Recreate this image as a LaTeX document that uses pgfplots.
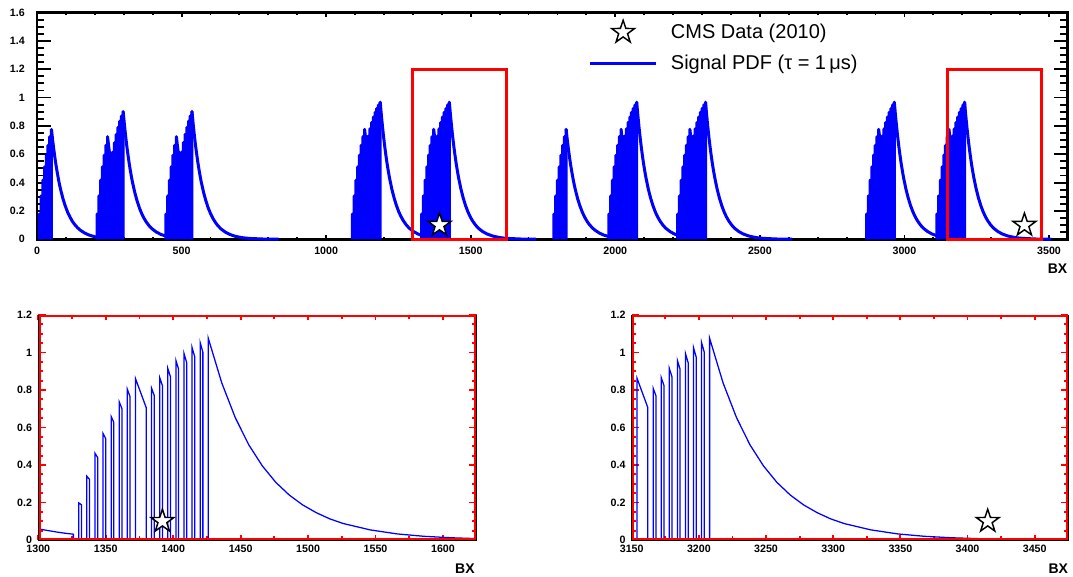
\documentclass[border=0pt]{standalone}
\usepackage{fontspec}
\setmainfont{Liberation Sans}
\usepackage{pgfplots}
\pgfplotsset{compat=1.18}
\usetikzlibrary{plotmarks}

\pgfdeclareplotmark{ostar}{%
  \pgfpathmoveto{\pgfpointpolar{90}{\pgfplotmarksize}}%
  \pgfpathlineto{\pgfpointpolar{126}{0.39\pgfplotmarksize}}%
  \pgfpathlineto{\pgfpointpolar{162}{\pgfplotmarksize}}%
  \pgfpathlineto{\pgfpointpolar{198}{0.39\pgfplotmarksize}}%
  \pgfpathlineto{\pgfpointpolar{234}{\pgfplotmarksize}}%
  \pgfpathlineto{\pgfpointpolar{270}{0.39\pgfplotmarksize}}%
  \pgfpathlineto{\pgfpointpolar{306}{\pgfplotmarksize}}%
  \pgfpathlineto{\pgfpointpolar{342}{0.39\pgfplotmarksize}}%
  \pgfpathlineto{\pgfpointpolar{18}{\pgfplotmarksize}}%
  \pgfpathlineto{\pgfpointpolar{54}{0.39\pgfplotmarksize}}%
  \pgfpathclose
  \pgfusepathqfillstroke
}

\pgfplotsset{
  /pgf/number format/assume math mode=true,
  /pgf/number format/1000 sep={},
  tick label style={font=\fontsize{8}{9}\selectfont\bfseries},
  starplot/.style={only marks, mark=ostar, mark size=9pt, mark options={draw=black, fill=white, line width=1.1pt}, forget plot},
  topfill/.style={fill=blue, draw=blue, line width=2.25pt, line join=round, forget plot},
  toptail/.style={blue, line width=2.25pt, line join=round, forget plot},
  botline/.style={blue, line width=0.95pt, forget plot},
  starlegend/.style={legend image code/.code={\path (0pt,0pt) (50pt,0pt); \draw[mark repeat=2,mark phase=2,##1] plot coordinates {(0pt,0pt) (25pt,0pt) (50pt,0pt)};}},
  linelegend/.style={legend image code/.code={\draw[##1] (0pt,0pt) -- (50pt,0pt);}},
}

\begin{document}
\begin{tikzpicture}
\path[use as bounding box] (0,0) rectangle (804.75pt,432pt);

% ---------------- top panel ----------------
\begin{axis}[
  at={(27.75pt,252.525pt)}, anchor=south west, scale only axis,
  width=772.875pt, height=170.1pt,
  xmin=0, xmax=3564, ymin=0, ymax=1.6, clip=false,
  scaled x ticks=false,
  xtick={0,500,1000,1500,2000,2500,3000,3500},
  ytick={0,0.2,0.4,0.6,0.8,1,1.2,1.4,1.6},
  minor x tick num=4, minor y tick num=3,
  tick align=inside, xtick pos=both, ytick pos=both,
  xticklabel pos=lower, yticklabel pos=left,
  axis line style={line width=1.9pt},
  xtick style={black, line width=1.4pt, /pgfplots/major tick length=3.5pt, /pgfplots/minor tick length=2pt},
  ytick style={black, line width=1.4pt, /pgfplots/major tick length=10.5pt, /pgfplots/minor tick length=5.5pt},
  yticklabel style={anchor=east, inner sep=0pt, xshift=-9pt},
  xticklabel style={anchor=north, inner sep=0pt, yshift=-5.5pt},
  xlabel={BX},
  x label style={at={(axis description cs:1,-0.1296)}, anchor=east, inner sep=0pt, font=\fontsize{10.5}{12}\selectfont\bfseries},
  legend style={at={(axis description cs:0.5347,0.853)}, anchor=west, draw=none, fill=none,
    inner sep=0pt, row sep=9.75pt, column sep=9.75pt, font=\fontsize{15}{18}\selectfont,
    cells={anchor=west}, nodes={inner sep=0pt}},
]
\addlegendimage{only marks, mark=ostar, mark size=9pt, mark options={draw=black, fill=white, line width=1.1pt}, starlegend}
\addlegendentry{CMS Data (2010)}
\addlegendimage{blue, line width=2.25pt, linelegend}
\addlegendentry{Signal PDF (τ = 1\,μs)}

% train A (8 bunches)
\addplot[topfill] coordinates {(8,0)(8,0.178)(14,0.153)(14,0.306)(20,0.263)(20,0.417)(26,0.359)(26,0.511)(32,0.440)(32,0.593)(38,0.510)(38,0.663)(44,0.571)(44,0.724)(50,0.623)(50,0.776)(50,0)};
\addplot[toptail] coordinates {(50,0.776)(54,0.702)(58,0.635)(62,0.575)(66,0.520)(70,0.471)(74,0.426)(78,0.385)(82,0.349)(90,0.285)(98,0.234)(106,0.191)(114,0.157)(122,0.128)(130,0.105)(140,0.082)(150,0.064)(165,0.044)(180,0.030)(200,0.018)(208,0.015)};
% train B (7+7)
\addplot[topfill] coordinates {(208,0)(208,0.178)(214,0.153)(214,0.306)(220,0.263)(220,0.417)(226,0.359)(226,0.511)(232,0.440)(232,0.593)(238,0.510)(238,0.663)(244,0.571)(244,0.724)(250,0.62)(262,0.58)(262,0.615)(268,0.529)(268,0.682)(274,0.587)(274,0.740)(280,0.637)(280,0.790)(286,0.680)(286,0.833)(292,0.717)(292,0.870)(298,0.749)(298,0.902)(298,0)};
\addplot[toptail] coordinates {(298,0.902)(302,0.816)(306,0.738)(310,0.668)(314,0.605)(318,0.547)(322,0.495)(326,0.448)(330,0.405)(338,0.332)(346,0.272)(354,0.222)(362,0.182)(370,0.149)(378,0.122)(388,0.095)(398,0.074)(413,0.051)(428,0.035)(446,0.022)};
% train C (7+7)
\addplot[topfill] coordinates {(446,0)(446,0.178)(452,0.153)(452,0.306)(458,0.263)(458,0.417)(464,0.359)(464,0.511)(470,0.440)(470,0.593)(476,0.510)(476,0.663)(482,0.571)(482,0.724)(488,0.62)(500,0.58)(500,0.615)(506,0.529)(506,0.682)(512,0.587)(512,0.740)(518,0.637)(518,0.790)(524,0.680)(524,0.833)(530,0.717)(530,0.870)(536,0.749)(536,0.902)(536,0)};
\addplot[toptail] coordinates {(536,0.902)(540,0.816)(544,0.738)(548,0.668)(552,0.605)(556,0.547)(560,0.495)(564,0.448)(568,0.405)(576,0.332)(584,0.272)(592,0.222)(600,0.182)(608,0.149)(616,0.122)(626,0.095)(636,0.074)(651,0.051)(666,0.035)(686,0.021)(711,0.011)(736,0.006)(786,0.0017)(836,0.0005)};
% train D (8+8)
\addplot[topfill] coordinates {(1091,0)(1091,0.178)(1097,0.153)(1097,0.306)(1103,0.263)(1103,0.417)(1109,0.359)(1109,0.511)(1115,0.440)(1115,0.593)(1121,0.510)(1121,0.663)(1127,0.571)(1127,0.724)(1133,0.623)(1133,0.776)(1141,0.635)(1145,0.620)(1145,0.728)(1151,0.627)(1151,0.779)(1157,0.670)(1157,0.824)(1163,0.709)(1163,0.862)(1169,0.742)(1169,0.896)(1175,0.771)(1175,0.923)(1181,0.794)(1181,0.948)(1187,0.816)(1187,0.968)(1187,0)};
\addplot[toptail] coordinates {(1187,0.968)(1191,0.876)(1195,0.793)(1199,0.717)(1203,0.649)(1207,0.587)(1211,0.531)(1215,0.481)(1219,0.435)(1227,0.356)(1235,0.292)(1243,0.239)(1251,0.195)(1259,0.160)(1267,0.131)(1277,0.102)(1287,0.079)(1302,0.055)(1317,0.038)(1330,0.027)};
% train E (8+8)
\addplot[topfill] coordinates {(1330,0)(1330,0.178)(1336,0.153)(1336,0.306)(1342,0.263)(1342,0.417)(1348,0.359)(1348,0.511)(1354,0.440)(1354,0.593)(1360,0.510)(1360,0.663)(1366,0.571)(1366,0.724)(1372,0.623)(1372,0.776)(1380,0.635)(1384,0.620)(1384,0.728)(1390,0.627)(1390,0.779)(1396,0.670)(1396,0.824)(1402,0.709)(1402,0.862)(1408,0.742)(1408,0.896)(1414,0.771)(1414,0.923)(1420,0.794)(1420,0.948)(1426,0.816)(1426,0.968)(1426,0)};
\addplot[toptail] coordinates {(1426,0.968)(1430,0.876)(1434,0.793)(1438,0.717)(1442,0.649)(1446,0.587)(1450,0.531)(1454,0.481)(1458,0.435)(1466,0.356)(1474,0.292)(1482,0.239)(1490,0.195)(1498,0.160)(1506,0.131)(1516,0.102)(1526,0.079)(1541,0.055)(1556,0.038)(1576,0.023)(1601,0.012)(1626,0.0065)(1676,0.0018)(1726,0.0006)};
% train F (8)
\addplot[topfill] coordinates {(1788,0)(1788,0.178)(1794,0.153)(1794,0.306)(1800,0.263)(1800,0.417)(1806,0.359)(1806,0.511)(1812,0.440)(1812,0.593)(1818,0.510)(1818,0.663)(1824,0.571)(1824,0.724)(1830,0.623)(1830,0.776)(1830,0)};
\addplot[toptail] coordinates {(1830,0.776)(1834,0.702)(1838,0.635)(1842,0.575)(1846,0.520)(1850,0.471)(1854,0.426)(1858,0.385)(1862,0.349)(1870,0.285)(1878,0.234)(1886,0.191)(1894,0.157)(1902,0.128)(1910,0.105)(1920,0.082)(1930,0.064)(1945,0.044)(1960,0.030)(1978,0.019)};
% train G (8+8)
\addplot[topfill] coordinates {(1978,0)(1978,0.178)(1984,0.153)(1984,0.306)(1990,0.263)(1990,0.417)(1996,0.359)(1996,0.511)(2002,0.440)(2002,0.593)(2008,0.510)(2008,0.663)(2014,0.571)(2014,0.724)(2020,0.623)(2020,0.776)(2028,0.635)(2032,0.620)(2032,0.728)(2038,0.627)(2038,0.779)(2044,0.670)(2044,0.824)(2050,0.709)(2050,0.862)(2056,0.742)(2056,0.896)(2062,0.771)(2062,0.923)(2068,0.794)(2068,0.948)(2074,0.816)(2074,0.968)(2074,0)};
\addplot[toptail] coordinates {(2074,0.968)(2078,0.876)(2082,0.793)(2086,0.717)(2090,0.649)(2094,0.587)(2098,0.531)(2102,0.481)(2106,0.435)(2114,0.356)(2122,0.292)(2130,0.239)(2138,0.195)(2146,0.160)(2154,0.131)(2164,0.102)(2174,0.079)(2189,0.055)(2204,0.038)(2216,0.028)};
% train H (8+8)
\addplot[topfill] coordinates {(2216,0)(2216,0.178)(2222,0.153)(2222,0.306)(2228,0.263)(2228,0.417)(2234,0.359)(2234,0.511)(2240,0.440)(2240,0.593)(2246,0.510)(2246,0.663)(2252,0.571)(2252,0.724)(2258,0.623)(2258,0.776)(2266,0.635)(2270,0.620)(2270,0.728)(2276,0.627)(2276,0.779)(2282,0.670)(2282,0.824)(2288,0.709)(2288,0.862)(2294,0.742)(2294,0.896)(2300,0.771)(2300,0.923)(2306,0.794)(2306,0.948)(2312,0.816)(2312,0.968)(2312,0)};
\addplot[toptail] coordinates {(2312,0.968)(2316,0.876)(2320,0.793)(2324,0.717)(2328,0.649)(2332,0.587)(2336,0.531)(2340,0.481)(2344,0.435)(2352,0.356)(2360,0.292)(2368,0.239)(2376,0.195)(2384,0.160)(2392,0.131)(2402,0.102)(2412,0.079)(2427,0.055)(2442,0.038)(2462,0.023)(2487,0.012)(2512,0.0065)(2562,0.0018)(2612,0.0006)};
% train I (8+8)
\addplot[topfill] coordinates {(2869,0)(2869,0.178)(2875,0.153)(2875,0.306)(2881,0.263)(2881,0.417)(2887,0.359)(2887,0.511)(2893,0.440)(2893,0.593)(2899,0.510)(2899,0.663)(2905,0.571)(2905,0.724)(2911,0.623)(2911,0.776)(2919,0.635)(2923,0.620)(2923,0.728)(2929,0.627)(2929,0.779)(2935,0.670)(2935,0.824)(2941,0.709)(2941,0.862)(2947,0.742)(2947,0.896)(2953,0.771)(2953,0.923)(2959,0.794)(2959,0.948)(2965,0.816)(2965,0.968)(2965,0)};
\addplot[toptail] coordinates {(2965,0.968)(2969,0.876)(2973,0.793)(2977,0.717)(2981,0.649)(2985,0.587)(2989,0.531)(2993,0.481)(2997,0.435)(3005,0.356)(3013,0.292)(3021,0.239)(3029,0.195)(3037,0.160)(3045,0.131)(3055,0.102)(3065,0.079)(3080,0.055)(3095,0.038)(3112,0.025)};
% train J (8+8)
\addplot[topfill] coordinates {(3112,0)(3112,0.178)(3118,0.153)(3118,0.306)(3124,0.263)(3124,0.417)(3130,0.359)(3130,0.511)(3136,0.440)(3136,0.593)(3142,0.510)(3142,0.663)(3148,0.571)(3148,0.724)(3154,0.623)(3154,0.776)(3162,0.635)(3166,0.620)(3166,0.728)(3172,0.627)(3172,0.779)(3178,0.670)(3178,0.824)(3184,0.709)(3184,0.862)(3190,0.742)(3190,0.896)(3196,0.771)(3196,0.923)(3202,0.794)(3202,0.948)(3208,0.816)(3208,0.968)(3208,0)};
\addplot[toptail] coordinates {(3208,0.968)(3212,0.876)(3216,0.793)(3220,0.717)(3224,0.649)(3228,0.587)(3232,0.531)(3236,0.481)(3240,0.435)(3248,0.356)(3256,0.292)(3264,0.239)(3272,0.195)(3280,0.160)(3288,0.131)(3298,0.102)(3308,0.079)(3323,0.055)(3338,0.038)(3358,0.023)(3383,0.012)(3408,0.0065)(3458,0.0018)(3508,0.0006)};

% zoom boxes
\addplot[red, line width=2.25pt, forget plot] coordinates {(1460,0)(1625,0)(1625,1.2)(1300,1.2)(1300,0)(1460,0)};
\addplot[red, line width=2.25pt, forget plot] coordinates {(3310,0)(3475,0)(3475,1.2)(3150,1.2)(3150,0)(3310,0)};

% data
\addplot[starplot] coordinates {(1392,0.1)(3415,0.1)};
\end{axis}

% ---------------- bottom-left panel ----------------
\begin{axis}[
  at={(28.725pt,27pt)}, anchor=south west, scale only axis,
  width=328.8pt, height=168.75pt,
  xmin=1300, xmax=1625, ymin=0, ymax=1.2, clip=false,
  scaled x ticks=false,
  xtick={1300,1350,1400,1450,1500,1550,1600},
  ytick={0,0.2,0.4,0.6,0.8,1,1.2},
  minor x tick num=1, minor y tick num=3,
  tick align=inside, xtick pos=both, ytick pos=both,
  xticklabel pos=lower, yticklabel pos=left,
  axis line style={draw=none},
  xtick style={red, line width=1.4pt, /pgfplots/major tick length=3.5pt, /pgfplots/minor tick length=2.75pt},
  ytick style={red, line width=1.4pt, /pgfplots/major tick length=5.5pt, /pgfplots/minor tick length=3.5pt},
  yticklabel style={anchor=east, inner sep=0pt, xshift=-4.5pt},
  xticklabel style={anchor=north, inner sep=0pt, yshift=-3.75pt},
  xlabel={BX},
  x label style={at={(axis description cs:0.996,-0.129)}, anchor=east, inner sep=0pt, font=\fontsize{10.5}{12}\selectfont\bfseries},
]
\addplot[botline] coordinates {(1300,0.060)(1305,0.053)(1310,0.047)(1315,0.041)(1320,0.036)(1326,0.031)(1326,0)
(1330,0)(1330,0.198)(1332,0.188)(1332,0)
(1336,0)(1336,0.340)(1338,0.323)(1338,0)
(1342,0)(1342,0.463)(1344,0.440)(1344,0)
(1348,0)(1348,0.568)(1350,0.540)(1350,0)
(1354,0)(1354,0.659)(1356,0.627)(1356,0)
(1360,0)(1360,0.737)(1362,0.701)(1362,0)
(1366,0)(1366,0.804)(1368,0.765)(1368,0)
(1372,0)(1372,0.862)(1380,0.706)(1380,0)
(1384,0)(1384,0.809)(1386,0.770)(1386,0)
(1390,0)(1390,0.866)(1392,0.824)(1392,0)
(1396,0)(1396,0.915)(1398,0.870)(1398,0)
(1402,0)(1402,0.958)(1404,0.911)(1404,0)
(1408,0)(1408,0.995)(1410,0.946)(1410,0)
(1414,0)(1414,1.026)(1416,0.976)(1416,0)
(1420,0)(1420,1.053)(1422,1.002)(1422,0)
(1426,0)(1426,1.076)(1436,0.838)(1446,0.653)(1456,0.508)(1466,0.396)(1476,0.308)(1486,0.240)(1496,0.187)(1506,0.146)(1516,0.113)(1526,0.088)(1546,0.054)(1566,0.0325)(1586,0.0197)(1606,0.0120)(1625,0.0074)};
\addplot[starplot] coordinates {(1392,0.1)};
\draw[black, line width=0.75pt] (rel axis cs:0,0) rectangle (rel axis cs:1,1);
\draw[red, line width=1.5pt] ([shift={(1.1pt,1.1pt)}]rel axis cs:0,0) rectangle ([shift={(-1.1pt,-1.1pt)}]rel axis cs:1,1);
\end{axis}

% ---------------- bottom-right panel ----------------
\begin{axis}[
  at={(473.775pt,27pt)}, anchor=south west, scale only axis,
  width=327.45pt, height=168.75pt,
  xmin=3150, xmax=3475, ymin=0, ymax=1.2, clip=false,
  scaled x ticks=false,
  xtick={3150,3200,3250,3300,3350,3400,3450},
  ytick={0,0.2,0.4,0.6,0.8,1,1.2},
  minor x tick num=1, minor y tick num=3,
  tick align=inside, xtick pos=both, ytick pos=both,
  xticklabel pos=lower, yticklabel pos=left,
  axis line style={draw=none},
  xtick style={red, line width=1.4pt, /pgfplots/major tick length=3.5pt, /pgfplots/minor tick length=2.75pt},
  ytick style={red, line width=1.4pt, /pgfplots/major tick length=5.5pt, /pgfplots/minor tick length=3.5pt},
  yticklabel style={anchor=east, inner sep=0pt, xshift=-4.5pt},
  xticklabel style={anchor=north, inner sep=0pt, yshift=-3.75pt},
  xlabel={BX},
  x label style={at={(axis description cs:1,-0.129)}, anchor=east, inner sep=0pt, font=\fontsize{10.5}{12}\selectfont\bfseries},
]
\addplot[botline] coordinates {(3150,0)(3154,0)(3154,0.862)(3162,0.706)(3162,0)
(3166,0)(3166,0.809)(3168,0.770)(3168,0)
(3172,0)(3172,0.866)(3174,0.824)(3174,0)
(3178,0)(3178,0.915)(3180,0.870)(3180,0)
(3184,0)(3184,0.958)(3186,0.911)(3186,0)
(3190,0)(3190,0.995)(3192,0.946)(3192,0)
(3196,0)(3196,1.026)(3198,0.976)(3198,0)
(3202,0)(3202,1.053)(3204,1.002)(3204,0)
(3208,0)(3208,1.076)(3218,0.838)(3228,0.653)(3238,0.508)(3248,0.396)(3258,0.308)(3268,0.240)(3278,0.187)(3288,0.146)(3298,0.113)(3308,0.088)(3328,0.054)(3348,0.0325)(3368,0.0197)(3388,0.0120)(3408,0.0073)(3428,0.0044)(3448,0.0027)(3475,0.0013)};
\addplot[starplot] coordinates {(3415,0.1)};
\draw[black, line width=0.75pt] (rel axis cs:0,0) rectangle (rel axis cs:1,1);
\draw[red, line width=1.5pt] ([shift={(1.1pt,1.1pt)}]rel axis cs:0,0) rectangle ([shift={(-1.1pt,-1.1pt)}]rel axis cs:1,1);
\end{axis}
\end{tikzpicture}
\end{document}
